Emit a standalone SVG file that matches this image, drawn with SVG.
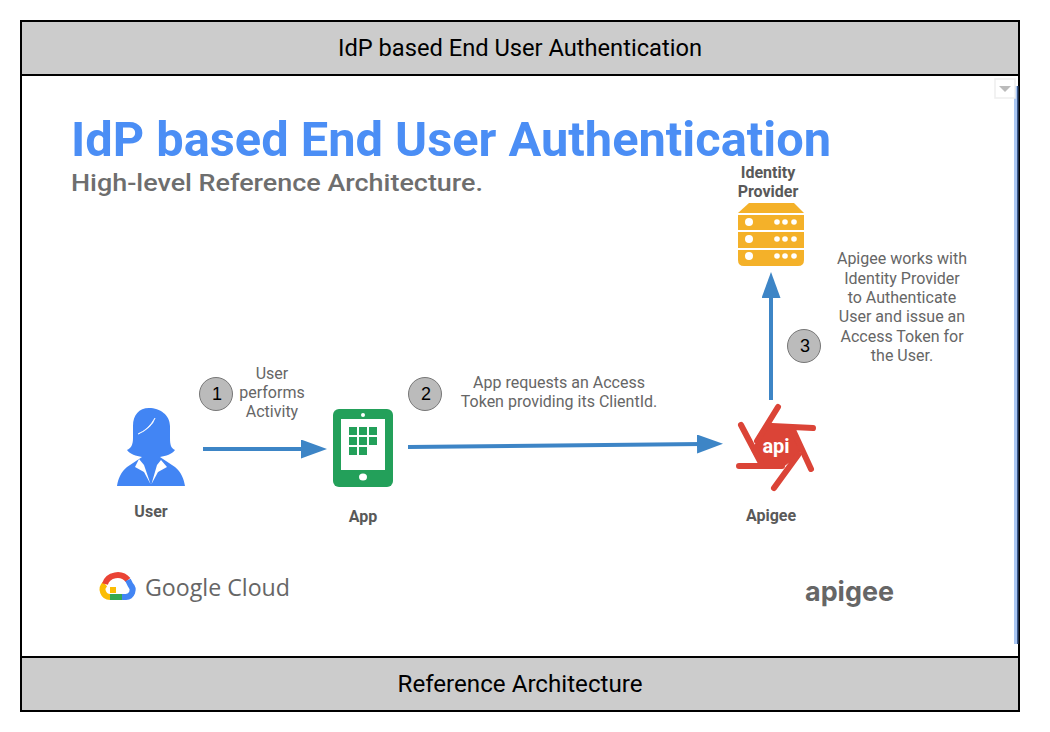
<svg xmlns="http://www.w3.org/2000/svg" width="1050" height="732" viewBox="0 0 1050 732">
<style>
.t{font-family:"Roboto","Liberation Sans",sans-serif;fill:#666;font-size:16px;text-anchor:middle}
.b{font-family:"Roboto","Liberation Sans",sans-serif;fill:#595959;font-size:16px;font-weight:700;text-anchor:middle}
.h{font-family:"Roboto","Liberation Sans",sans-serif;fill:#000;font-size:24px;text-anchor:middle}
.n{font-family:"Liberation Sans",sans-serif;fill:#000;font-size:18px;text-anchor:middle}
.c{fill:#bbb;stroke:#777;stroke-width:1}
.l{stroke:#3d85c6;stroke-width:4;fill:none}
</style>
<defs>
<marker id="ah" markerUnits="userSpaceOnUse" markerWidth="27" markerHeight="20" refX="5" refY="9.5" orient="auto"><path d="M0 0L26 9.5L0 19Z" fill="#3d85c6"/></marker>
</defs>
<rect width="1050" height="732" fill="#fff"/>
<rect id="frame" x="21" y="21" width="998" height="690" fill="#fff" stroke="#000" stroke-width="2"/>
<g id="header"><rect x="21" y="21" width="998" height="54" fill="#ccc" stroke="#000" stroke-width="2"/><text class="h" x="520" y="56" textLength="364" lengthAdjust="spacingAndGlyphs">IdP based End User Authentication</text></g>
<g id="footer"><rect x="21" y="657" width="998" height="54" fill="#ccc" stroke="#000" stroke-width="2"/><text class="h" x="520" y="692" textLength="245" lengthAdjust="spacingAndGlyphs">Reference Architecture</text></g>
<g id="edge">
<rect x="1014" y="86" width="4" height="558" fill="#a9c6f2"/><rect x="1017" y="86" width="1.500" height="558" fill="#3c5a8c"/>
<rect x="995" y="79" width="20" height="19" fill="#fff" stroke="#eee" stroke-width="1.500"/><path d="M999 86H1011L1005 92Z" fill="#bbb"/>
</g>
<text x="71" y="156" font-family="Roboto,'Liberation Sans',sans-serif" font-size="49" font-weight="700" fill="#4b8ef5" textLength="760" lengthAdjust="spacingAndGlyphs">IdP based End User Authentication</text>
<text x="71" y="191" font-family="Roboto,'Liberation Sans',sans-serif" font-size="24" font-weight="500" fill="#6e6e6e" textLength="412" lengthAdjust="spacingAndGlyphs">High-level Reference Architecture.</text>
<g id="connectors">
<path class="l" d="M203 449H306" marker-end="url(#ah)"/>
<path class="l" d="M408 447L702 444" marker-end="url(#ah)"/>
<path class="l" d="M771 400V293" marker-end="url(#ah)"/>
</g>
<g id="user">
<path d="M149 408C139 408 133 415 133 426V438C133 445 131 448 127 450C130 454 136 456 142 457L127 467C121 472 118 479 117 486H185C184 479 181 472 175 467L160 457C166 456 172 454 175 450C171 448 170 445 170 438V426C170 415 160 408 149 408Z" fill="#4285f4"/>
<path d="M139 459L135 467L144 472L150.500 484L144 465Z" fill="#fff"/>
<path d="M161 460L167 467L158 472L151.500 484L157 465Z" fill="#fff"/>
<path d="M138 434Q148 430 155 418Q152 428 138 434Z" fill="#fff" stroke="#fff" stroke-width=".7"/>
<text class="b" x="151" y="517">User</text>
</g>
<g id="app">
<rect x="333" y="409" width="60" height="78" rx="6" fill="#23a05a"/>
<rect x="341" y="419" width="44" height="51" fill="#fff"/>
<circle cx="363" cy="415" r="2" fill="#fff"/><ellipse cx="363" cy="477" rx="4" ry="3.500" fill="#fff"/>
<path d="M349 427h8v8h-8zM359 427h8v8h-8zM369 427h8v8h-8zM349 437h8v8h-8zM359 437h8v8h-8zM369 437h8v8h-8zM349 447h8v8h-8zM359 447h8v8h-8z" fill="#23a05a"/>
<text class="b" x="363" y="522">App</text>
</g>
<g id="apigee">
<path d="M757 441L768 424L793 429L802 449L798 456L782 468L761 466L751 450Z" fill="#db4437"/>
<path d="M778 407L757 441M741 425L761 463M739 466H782M774 488L798 455M811 469L793 430M813 428L772 426" fill="none" stroke="#db4437" stroke-width="6" stroke-linecap="round"/>
<text x="776" y="453" font-family="Roboto,'Liberation Sans',sans-serif" font-size="20" font-weight="700" fill="#fff" text-anchor="middle">api</text>
<text class="b" x="771" y="521">Apigee</text>
</g>
<g id="idp">
<path d="M738 213L749 203H794L804 213Z" fill="#f4b129"/>
<path d="M738 215H804V230H738ZM738 232H804V248H738ZM738 250H804V260Q804 266 798 266H744Q738 266 738 260Z" fill="#f4b129"/>
<g fill="#fff"><circle cx="749" cy="222" r="4"/><circle cx="777" cy="222" r="2.800"/><circle cx="785" cy="222" r="2.800"/><circle cx="794" cy="222" r="2.800"/><circle cx="749" cy="239" r="4"/><circle cx="777" cy="239" r="2.800"/><circle cx="785" cy="239" r="2.800"/><circle cx="794" cy="239" r="2.800"/><circle cx="749" cy="256" r="4"/><circle cx="777" cy="256" r="2.800"/><circle cx="785" cy="256" r="2.800"/><circle cx="794" cy="256" r="2.800"/></g>
<text class="b" x="768" y="178">Identity</text><text class="b" x="768" y="197">Provider</text>
</g>
<g id="step1"><circle class="c" cx="216" cy="394" r="16.500"/><text class="n" x="217" y="400">1</text>
<text class="t" x="272" y="379">User</text><text class="t" x="272" y="398">performs</text><text class="t" x="272" y="417">Activity</text></g>
<g id="step2"><circle class="c" cx="425" cy="394" r="16.500"/><text class="n" x="426" y="400">2</text>
<text class="t" x="559" y="388">App requests an Access</text><text class="t" x="559" y="407">Token providing its ClientId.</text></g>
<g id="step3"><circle class="c" cx="804" cy="346" r="16.500"/><text class="n" x="805" y="352">3</text>
<text class="t" x="902" y="264">Apigee works with</text><text class="t" x="902" y="284">Identity Provider</text><text class="t" x="902" y="303">to Authenticate</text><text class="t" x="902" y="322">User and issue an</text><text class="t" x="902" y="342">Access Token for</text><text class="t" x="902" y="361">the User.</text></g>
<g id="google-cloud" fill="none" stroke-width="6">
<path d="M110 597A7.500 7.500 0 0 1 105 584M110 590H116" stroke="#fbbc04"/>
<path d="M105 584A13 12 0 0 1 128 580" stroke="#ea4335"/>
<path d="M128 580L130.500 585A7 7 0 0 1 126 597H122" stroke="#4285f4"/>
<path d="M110 597H122" stroke="#34a853"/>
<text x="145" y="596" font-family="'Open Sans',Roboto,sans-serif" font-size="24" fill="#666" stroke="none" textLength="145" lengthAdjust="spacingAndGlyphs">Google Cloud</text>
</g>
<g id="apigee-logo"><text x="805" y="601" font-family="Inter,sans-serif" font-size="27" font-weight="700" fill="#666" textLength="89" lengthAdjust="spacingAndGlyphs">apigee</text></g>
</svg>
